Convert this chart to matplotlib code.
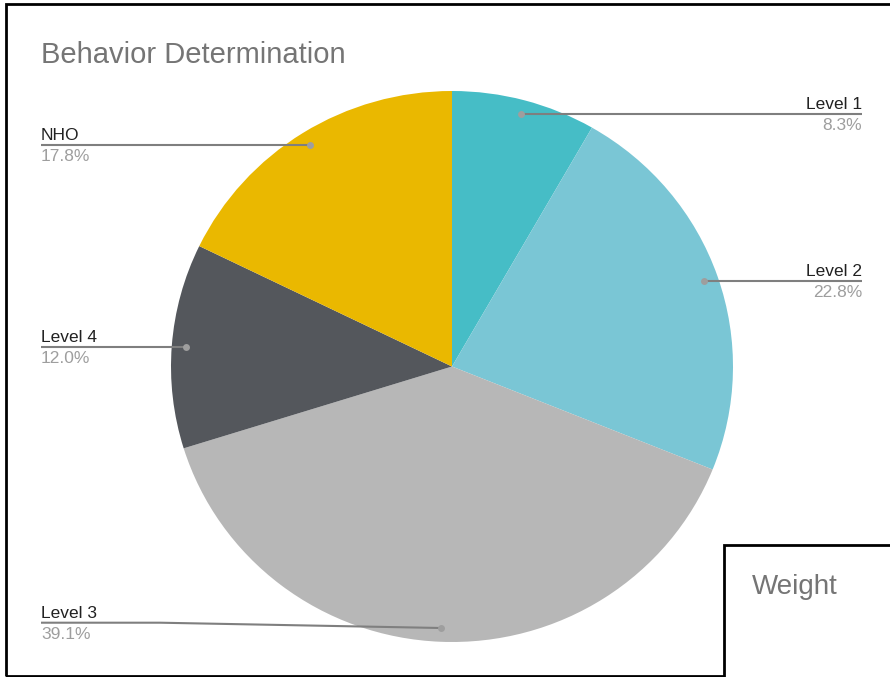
import matplotlib
matplotlib.use('Agg')
import matplotlib.pyplot as plt
from matplotlib.patches import Rectangle
import numpy as np

plt.rcParams['font.family'] = ['Liberation Sans', 'DejaVu Sans']

# data
labels = ['Level 1', 'Level 2', 'Level 3', 'Level 4', 'NHO']
values = [8.3, 22.8, 39.1, 12.0, 17.8]
colors = ['#46BDC6', '#7AC6D5', '#B7B7B7', '#54575C', '#EAB800']
title = 'Behavior Determination'

W, H = 890, 677
k = 281 / 275.5          # pie is a little wider than tall in the picture
def Y(py):
    return (H - py) * k

fig = plt.figure(figsize=(W / 100, H / 100), dpi=100)
ax = fig.add_axes([0, 0, 1, 1])

cx, cy, R = 452, Y(366.5), 281
ax.pie(values, colors=colors, startangle=90, counterclock=False,
       center=(cx, cy), radius=R, wedgeprops=dict(linewidth=0))
ax.set_aspect('auto')
ax.set_xlim(0, W)
ax.set_ylim(0, H * k)
ax.axis('off')

# label layout: side and y of the leader line (pixels from top)
side = ['right', 'right', 'left', 'left', 'left']
line_y = [None, None, 622.7, None, None]

total = sum(values)
cum = 0
for lab, v, s, ly in zip(labels, values, side, line_y):
    mid = np.deg2rad(90 - 360 * (cum + v / 2) / total)
    cum += v
    dx = cx + 0.95 * R * np.cos(mid)
    dy = cy + 0.95 * R * np.sin(mid)
    ty = dy if ly is None else Y(ly)
    if s == 'right':
        xs, ys = [dx, 862], [dy, ty]
        tx, ha = 862, 'right'
    else:
        if ly is None:
            xs, ys = [41, dx], [ty, dy]
        else:
            xs, ys = [41, 160, dx], [ty, ty, dy]
        tx, ha = 41, 'left'
    ax.plot(xs, ys, color='#7f7f7f', lw=1.5, solid_capstyle='butt')
    ax.plot([dx], [dy], 'o', color='#9e9e9e', ms=5, mec='none')
    ax.text(tx, ty + 5 * k, lab, ha=ha, va='baseline', fontsize=12.5, color='#212121')
    ax.text(tx, ty - 16.5 * k, '%.1f%%' % v, ha=ha, va='baseline', fontsize=12.5, color='#9e9e9e')

ax.text(41, Y(63), title, ha='left', va='baseline', fontsize=21, color='#757575')

# outer frame and the "Weight" box
ax.add_patch(Rectangle((6, Y(676)), W + 20, Y(4.5) - Y(676), fill=False,
                       ec='black', lw=2, clip_on=False))
ax.add_patch(Rectangle((724, Y(700)), 200, Y(545) - Y(700), fc='white',
                       ec='black', lw=2, clip_on=False))
ax.text(752, Y(594), 'Weight', ha='left', va='baseline', fontsize=20, color='#757575')

fig.savefig('out.png', dpi=100)
